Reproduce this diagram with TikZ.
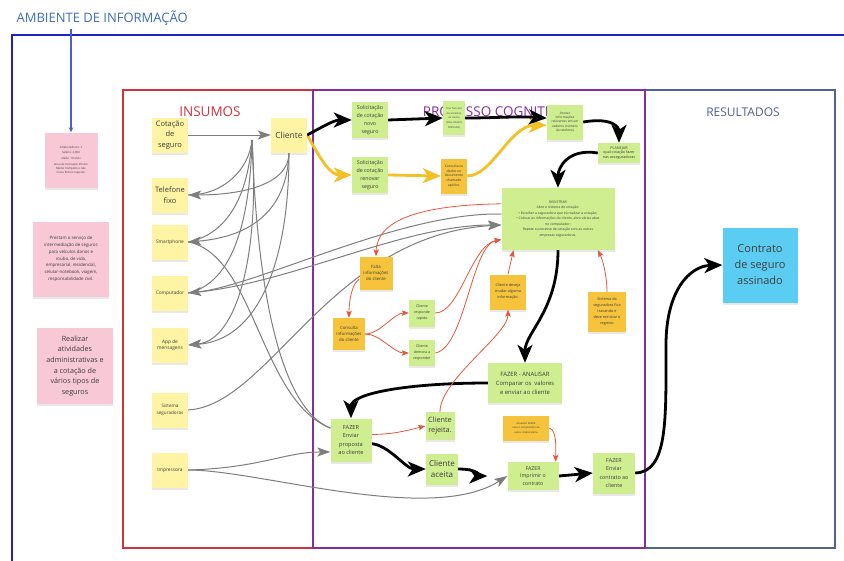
\documentclass[tikz,border=0pt]{standalone}
\usepackage{fontspec}
\setmainfont{Open Sans}
\usetikzlibrary{arrows.meta,shadows}
\definecolor{yelc}{HTML}{FFF4A3}
\definecolor{grnc}{HTML}{CFEE8F}
\definecolor{orgc}{HTML}{F5C43C}
\definecolor{pnkc}{HTML}{F8C8D7}
\definecolor{cyac}{HTML}{5BCDF2}
\definecolor{txtc}{HTML}{3C3C3C}
\definecolor{graylc}{HTML}{7E7E7E}
\definecolor{redc}{HTML}{E5573B}
\definecolor{goldc}{HTML}{F3C026}
\definecolor{frblue}{HTML}{1C22C8}
\definecolor{frred}{HTML}{D1333F}
\definecolor{frpur}{HTML}{8A2D9C}
\definecolor{frres}{HTML}{50648F}
\definecolor{ttlblue}{HTML}{3F6FB6}
\definecolor{arrblue}{HTML}{4F5FC4}
\newcommand\fsz[2]{\fontsize{#1}{#2}\selectfont}
\pgfdeclarelayer{bg}
\pgfdeclarelayer{mid}
\pgfsetlayers{bg,mid,main}
\tikzset{
  stk/.style={align=center, inner sep=0.5pt, text=txtc,
    drop shadow={shadow xshift=0pt,shadow yshift=-2pt,opacity=0.18}},
  yel/.style={stk, fill=yelc},
  grn/.style={stk, fill=grnc},
  org/.style={stk, fill=orgc},
  pnk/.style={stk, fill=pnkc},
  cya/.style={stk, fill=cyac, text=black!75},
  sz/.style 2 args={minimum width=#1pt, minimum height=#2pt},
  gar/.style={draw=graylc, line width=1pt, -{Stealth[length=13pt,width=9pt,inset=3pt]}},
  gln/.style={draw=graylc, line width=1pt},
  bar/.style={draw=black, line width=2.8pt, -{Stealth[length=18pt,width=15pt,inset=5pt]}},
  yar/.style={draw=goldc, line width=2.8pt, -{Stealth[length=18pt,width=15pt,inset=5pt]}},
  rar/.style={draw=redc, line width=0.8pt, -{Stealth[length=7pt,width=5.5pt,inset=1.5pt]}},
  blar/.style={draw=arrblue, line width=1.3pt, -{Stealth[length=5pt,width=4.5pt]}},
}
\begin{document}
\begin{tikzpicture}[x=1pt,y=-1pt]
\path[use as bounding box] (0,0) rectangle (844,560);
\begin{pgfonlayer}{bg}
\fill[white] (0,0) rectangle (844,560);
\draw[frblue, line width=1.8pt] (846,35) -- (12,35) -- (12,562);
\draw[frred, line width=1.2pt] (123,90) rectangle (313,548);
\draw[frres, line width=1.1pt] (645,90) rectangle (835,548);
\draw[frpur, line width=1.3pt] (313,90) rectangle (645,548);
\node[font=\fsz{13}{15}, text=ttlblue, anchor=west] (ttl) at (13,18) {AMBIENTE DE INFORMAÇÃO};
\node[font=\fsz{13.5}{16}, text=frred] (lins) at (210,112) {INSUMOS};
\node[font=\fsz{13.5}{16}, text=frpur] (lpro) at (495,112) {PROCESSO COGNITIVO};
\node[font=\fsz{12}{14}, text=frres] (lres) at (743,112) {RESULTADOS};
\end{pgfonlayer}

% pink notes
\node[pnk, sz={53}{55}, font=\fsz{2.8}{3.9}] (p1) at (71,160) {Colaboradores: 2\\[1.8pt]Salário: 2.000\\[1.8pt]Idade: 19 anos\\[1.8pt]Grau de instrução: Ensino\\Médio Completo e não\\Cursa Ensino Superior};
\node[pnk, sz={76}{75}, font=\fsz{4.4}{6.8}] (p2) at (71,259) {Prestam o serviço de\\intermediação de seguros\\para veículos danos e\\roubo, de vida,\\empresarial, residencial,\\celular-notebook, viagem,\\responsabilidade civil.};
\node[pnk, sz={76}{76}, font=\fsz{7.2}{10.7}] (p3) at (75,366) {Realizar\\atividades\\administrativas e\\a cotação de\\vários tipos de\\seguros};

% insumos
\node[yel, sz={36}{35}, font=\fsz{7.5}{10.5}] (cot) at (170,135) {Cotação\\de\\seguro};
\node[yel, sz={36}{35}, font=\fsz{8.5}{10}] (cli) at (289,135) {Cliente};
\node[yel, sz={36}{35}, font=\fsz{7.5}{10.5}] (tel) at (170,195) {Telefone\\fixo};
\node[yel, sz={36}{35}, font=\fsz{4.8}{6}] (sma) at (170,242) {Smartphone};
\node[yel, sz={36}{35}, font=\fsz{4.8}{6}] (com) at (170,293) {Computador};
\node[yel, sz={36}{35}, font=\fsz{4.8}{6.5}] (app) at (170,345) {App de\\mensagens};
\node[yel, sz={36}{35}, font=\fsz{4.6}{6.5}] (sis) at (170,410) {Sistema\\seguradoras};
\node[yel, sz={36}{35}, font=\fsz{4.8}{6}] (imp) at (170,470) {Impressora};

% processo cognitivo
\node[grn, sz={36}{36}, font=\fsz{5.3}{8.2}] (nov) at (370,120) {Solicitação\\de cotação\\novo\\seguro};
\node[grn, sz={36}{36}, font=\fsz{5.3}{8.2}] (ren) at (370,175) {Solicitação\\de cotação\\renovar\\seguro};
\node[grn, sz={22}{34}, font=\fsz{2.5}{4.7}] (fot) at (454,118) {Tirar foto dos\\documentos\\do cliente\\(CNH, DADOS\\PESSOAIS)};
\node[org, sz={26}{35}, font=\fsz{3.4}{4.8}] (apo) at (454,176) {Consulta os\\dados no\\documento\\chamado\\apólice.};
\node[grn, sz={36}{35}, font=\fsz{3.2}{4.4}] (ano) at (565,122) {Anotar\\informações\\relevantes em um\\caderno (número\\de telefone)};
\node[grn, sz={42}{20}, font=\fsz{3.7}{4.8}] (pla) at (619,153) {PLANEJAR\\qual cotação fazer\\nas asseguradoras};
\node[grn, sz={113}{62}, font=\fsz{3.4}{5.5}] (reg) at (558,219) {REGISTRAR\\Abre o sistema de cotação:\\• Escolher a seguradora que irá realizar a cotação;\\• Colocar as informações do cliente, abre várias abas\\no computador;\\Repete o processo de cotação com as outras\\empresas seguradoras.};
\node[org, sz={33}{33}, font=\fsz{4.3}{6}] (fal) at (376,273) {Falta\\informações\\do cliente};
\node[org, sz={32}{32}, font=\fsz{4.3}{6}] (cons) at (349,334) {Consulta\\informações\\do cliente};
\node[grn, sz={26}{27}, font=\fsz{3.6}{6}] (rap) at (422,313) {Cliente\\responde\\rapido};
\node[grn, sz={26}{26}, font=\fsz{3.6}{6}] (dem) at (422,353) {Cliente\\demora a\\responder};
\node[org, sz={36}{35}, font=\fsz{3.8}{6}] (mud) at (508,292) {Cliente deseja\\mudar alguma\\informação.};
\node[org, sz={38}{40}, font=\fsz{3.8}{6}] (sist) at (607,312) {Sistema da\\seguradora fica\\travando e\\deve reiniciar o\\registro};
\node[grn, sz={74}{40}, font=\fsz{5.9}{9}] (ana) at (525,383) {FAZER - ANALISAR\\Comparar os\ \ valores\\e enviar ao cliente};
\node[grn, sz={41}{43}, font=\fsz{5.6}{8.6}] (env) at (351,440) {FAZER\\Enviar\\proposta\\ao cliente};
\node[grn, sz={29}{28}, font=\fsz{7.3}{10}] (rej) at (440,426) {Cliente\\rejeita.};
\node[grn, sz={32}{31}, font=\fsz{8}{11}] (ace) at (442,469) {Cliente\\aceita};
\node[org, sz={46}{25}, font=\fsz{2.6}{4.4}] (obs) at (526,428) {Atualizar FAZER\\caso o computador da\\outra colaboradora};
\node[grn, sz={51}{28}, font=\fsz{5.2}{7.8}] (imc) at (533,476) {FAZER\\Imprimir o\\contrato};
\node[grn, sz={42}{41}, font=\fsz{5.4}{8.6}] (enc) at (614,473) {FAZER\\Enviar\\contrato ao\\cliente};

% resultados
\node[cya, sz={75}{75}, font=\fsz{11}{16}] (res) at (760,265) {Contrato\\de seguro\\assinado};

\coordinate (cliin) at (252,140);
\coordinate (bnd) at (666,345);

\begin{pgfonlayer}{mid}
% title arrow
\draw[blar] (p1.north |- ttl.south) -- (p1.north);
% gray connectors
\draw[gar] (cot.east) -- (cli.west);
\draw[gar] (cli.south) .. controls +(0,35) and +(45,0) .. (tel.east);
\draw[gar] (cli.south) .. controls +(-2,60) and +(60,-5) .. (sma.east);
\draw[gar] (cli.south) .. controls +(0,110) and +(70,-5) .. (app.east);
\draw[gln] (tel.east) .. controls +(35,0) and +(-3,30) .. (cliin);
\draw[gln] (sma.east) .. controls +(40,-8) and +(-4,55) .. (cliin);
\draw[gln] (com.east) .. controls +(45,-10) and +(-2,80) .. (cliin);
\draw[gar] (cliin) .. controls +(8,110) and +(50,-5) .. (app.east);
\draw[gln] (cliin) .. controls +(5,150) and +(-50,-20) .. (env.150);
\draw[gln] (sma.east) .. controls (255,255) and (260,400) .. (env.150);
\draw[gar] (reg.175) .. controls (400,212) and (260,285) .. (com.east);
\draw[gar] (com.east) .. controls (290,285) and (400,225) .. (reg.186);
\draw[gar] (sis.east) .. controls (270,405) and (330,235) .. (reg.186);
\draw[gar] (imp.east) .. controls (260,468) and (285,452) .. (env.210);
\draw[gar] (imp.east) .. controls (260,470) and (430,525) .. (imc.west);
% gold connectors
\draw[yar] (cli.east) .. controls +(14,25) and +(-22,0) .. (ren.west);
\draw[yar] (ren.east) -- (apo.west);
\draw[yar] (apo.east) .. controls +(25,0) and +(-37,0) .. (ano.190);
% black connectors
\draw[bar] (cli.east) .. controls +(15,-8) and +(-18,0) .. (nov.west);
\draw[bar] (nov.east) -- (fot.west);
\draw[bar] (fot.east) .. controls +(30,0) and +(-30,-2) .. (ano.168);
\draw[bar] (ano.east) .. controls +(30,-5) and +(0,-15) .. (pla.north);
\draw[bar] (pla.west) .. controls +(-30,-5) and +(0,-20) .. (reg.north);
\draw[bar] (reg.south) .. controls +(0,60) and +(0,-30) .. (ana.north);
\draw[bar] (ana.west) .. controls +(-80,0) and +(0,-25) .. (env.north);
\draw[bar] (env.-10) .. controls +(18,2) and +(-20,0) .. (ace.west);
\draw[bar, shorten >=20pt] (ace.east) .. controls +(20,0) and +(-25,0) .. (imc.west);
\draw[bar] (imc.east) -- (enc.west);
\draw[bar] (enc.east) .. controls (668,472) and (666,420) .. (bnd) .. controls (666,290) and (690,266) .. (res.west);
% red connectors
\draw[rar] (reg.165) .. controls (420,205) and (377,220) .. (fal.north);
\draw[rar] (fal.200) .. controls +(-8,5) and +(0,-15) .. (cons.north);
\draw[rar] (cons.east) .. controls +(15,0) and +(-15,0) .. (rap.west);
\draw[rar] (cons.east) .. controls +(15,0) and +(-15,0) .. (dem.west);
\draw[rar] (rap.east) .. controls +(25,0) and +(-30,5) .. (reg.200);
\draw[rar] (dem.east) .. controls +(30,-5) and +(-30,5) .. (reg.200);
\draw[rar] (rej.north) .. controls +(0,-32) and +(0,25) .. (mud.south);
\draw[rar] (mud.north) -- (reg.-145);
\draw[rar] (sist.north) .. controls +(0,-15) and +(5,10) .. (reg.-38);
\draw[rar] (env.15) .. controls +(20,0) and +(-20,5) .. (rej.west);
\draw[rar] (obs.east) .. controls +(8,2) and +(0,-12) .. (imc.32);
\end{pgfonlayer}
\end{tikzpicture}
\end{document}
